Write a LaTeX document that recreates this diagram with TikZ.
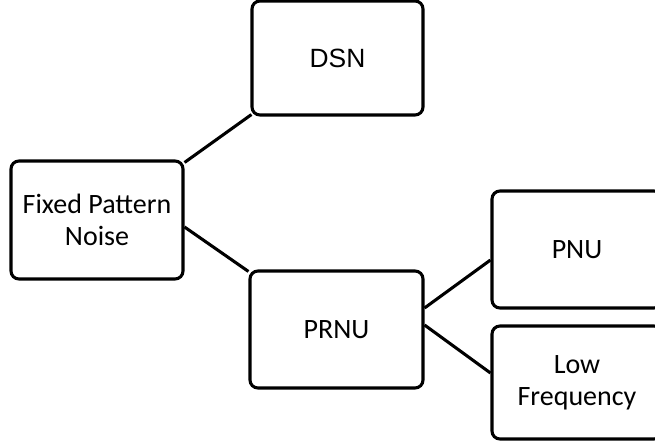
\documentclass[tikz,border=0pt]{standalone}
\usepackage{fontspec}
\setmainfont{Carlito}
\newfontfamily\arialfont{Liberation Sans}
\usetikzlibrary{calc}
\begin{document}
\begin{tikzpicture}[x=0.75pt,y=-0.75pt,
  box/.style={draw=black, line width=2.3pt, rounded corners=6pt, fill=white,
    inner sep=0pt, align=center, font=\fontsize{21}{24}\selectfont},
  link/.style={draw=black, line width=2.3pt}]
\useasboundingbox (0,0) rectangle (655,446);
\node[box, minimum width=171*0.75pt, minimum height=114*0.75pt, font=\arialfont\fontsize{19.8}{22}\selectfont] (dsn) at (337.5,58) {DSN};
\node[box, minimum width=172*0.75pt, minimum height=118*0.75pt] (fpn) at (97,220) {Fixed Pattern\\Noise};
\node[box, minimum width=173*0.75pt, minimum height=117*0.75pt] (prnu) at (336.5,329.5) {PRNU};
\node[box, minimum width=170*0.75pt, minimum height=117*0.75pt] (pnu) at (577,249.5) {PNU};
\node[box, minimum width=170*0.75pt, minimum height=113*0.75pt] (lf) at (577,382.5) {Low\\Frequency};
\draw[link] ($(fpn.north east)+(0,3)$) -- ($(dsn.south west)+(1,-2)$);
\draw[link] ($(fpn.east)+(0,7)$) -- ($(prnu.north west)+(0,2)$);
\draw[link] ($(prnu.east)+(0,-21.5)$) -- ($(pnu.west)+(0,10.5)$);
\draw[link] ($(prnu.east)+(0,-4.5)$) -- ($(lf.west)+(0,-9.5)$);
\end{tikzpicture}
\end{document}
